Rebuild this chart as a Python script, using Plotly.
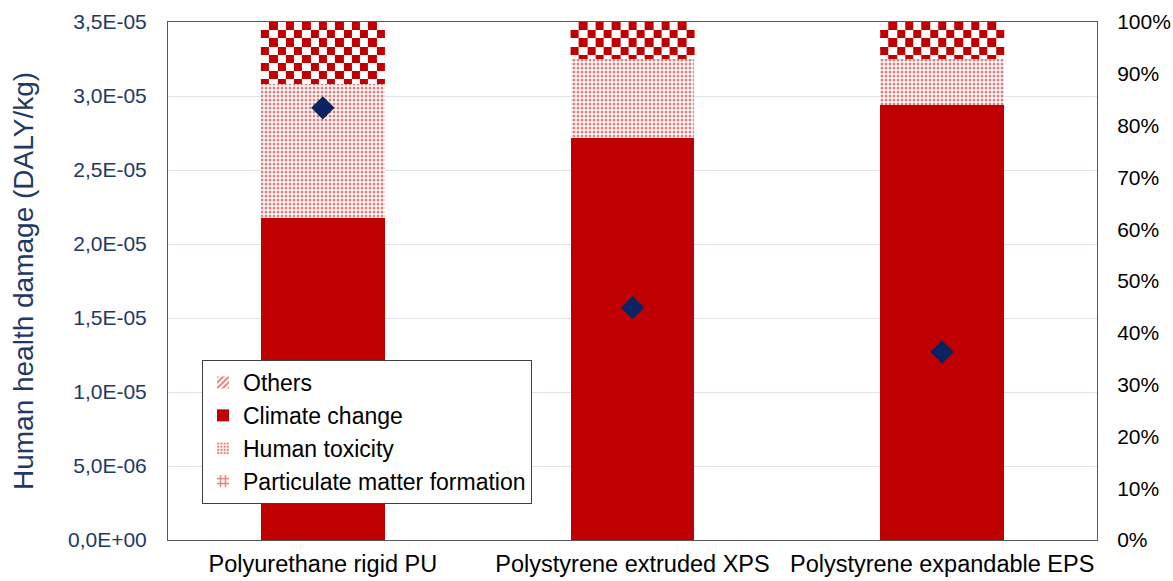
import plotly.graph_objects as go

# Insulation materials compared
categories = ["Polyurethane rigid PU", "Polystyrene extruded XPS", "Polystyrene expandable EPS"]

# Share of human health damage per impact category (%), stacked bottom to top
climate_change = [62.2, 77.6, 84.0]
human_toxicity = [25.8, 15.3, 8.9]
particulate_matter = [12.0, 7.1, 7.1]
others = [0.0, 0.0, 0.0]

# Total human health damage (DALY/kg), left axis
total_damage = [2.92e-05, 1.57e-05, 1.27e-05]

# Axis ticks
left_ticks = [0, 5e-06, 1e-05, 1.5e-05, 2e-05, 2.5e-05, 3e-05, 3.5e-05]
right_ticks = [0, 10, 20, 30, 40, 50, 60, 70, 80, 90, 100]

RED = "#C00000"
NAVY = "#0B2461"
AXIS_BLUE = "#1F3864"
FRAME = "#595959"
FONT = "Liberation Sans, Arial, sans-serif"
BAR_W = 0.4

x_pos = list(range(len(categories)))
left_text = [f"{v:.1E}".replace(".", ",") for v in left_ticks]
right_text = [f"{v}%" for v in right_ticks]

fig = go.Figure()

# Percentage breakdown: main y axis (right side)
fig.add_trace(go.Bar(
    x=x_pos, y=climate_change, name="Climate change", width=BAR_W,
    marker=dict(color=RED, line=dict(width=0)), legendrank=2,
))
fig.add_trace(go.Bar(
    x=x_pos, y=human_toxicity, name="Human toxicity", width=BAR_W,
    marker=dict(color="white", line=dict(width=0),
                pattern=dict(shape=".", fgcolor=RED, bgcolor="white", size=4, solidity=0.45)),
    legendrank=3,
))
fig.add_trace(go.Bar(
    x=x_pos, y=particulate_matter, name="Particulate matter formation", width=BAR_W,
    marker=dict(color="white", line=dict(width=0),
                pattern=dict(shape="+", fgcolor=RED, bgcolor="white", size=6, solidity=0.5)),
    legendrank=4,
))
fig.add_trace(go.Bar(
    x=x_pos, y=others, name="Others", width=BAR_W,
    marker=dict(color="white", line=dict(width=0),
                pattern=dict(shape="/", fgcolor=RED, bgcolor="white", size=5, solidity=0.5)),
    legendrank=1,
))

# Total damage diamonds on the DALY axis (left side)
fig.add_trace(go.Scatter(
    x=x_pos, y=total_damage, yaxis="y2", mode="markers", name="Total",
    marker=dict(symbol="diamond", size=18, color=NAVY, line=dict(width=0)),
    showlegend=False,
))

# Checkerboard fill for the particulate matter segment of each bar
CELL_COLS = 15
CELL_H = 1.58  # percent units per checker row
for i, (cc, ht, pm) in enumerate(zip(climate_change, human_toxicity, particulate_matter)):
    lo = cc + ht
    hi = lo + pm
    y_edges = [hi]
    e = hi
    while e - CELL_H > lo + 1e-9:
        e -= CELL_H
        y_edges.append(e)
    y_edges.append(lo)
    y_edges = y_edges[::-1]
    n_rows = len(y_edges) - 1
    x_edges = [i - BAR_W / 2 + BAR_W * k / CELL_COLS for k in range(CELL_COLS + 1)]
    z = []
    for r in range(n_rows):
        r_top = n_rows - 1 - r
        z.append([(r_top + c) % 2 for c in range(CELL_COLS)])
    fig.add_trace(go.Heatmap(
        x=x_edges, y=y_edges, z=z, yaxis="y3",
        colorscale=[[0, "#FFFFFF"], [1, RED]], zmin=0, zmax=1,
        showscale=False, hoverinfo="skip", showlegend=False,
    ))

fig.update_layout(
    width=1173, height=581,
    margin=dict(l=168, r=76, t=22, b=41),
    paper_bgcolor="white", plot_bgcolor="white",
    font=dict(family=FONT, color="black"),
    barmode="stack",
    showlegend=True,
    legend=dict(
        x=(202 - 168) / 929, y=(540 - 360) / 518, xanchor="left", yanchor="top",
        bgcolor="white", bordercolor="#404040", borderwidth=1,
        font=dict(family=FONT, size=23, color="black"),
        traceorder="normal",
    ),
    xaxis=dict(
        range=[-0.5, 2.5], tickvals=x_pos, ticktext=categories,
        tickfont=dict(family=FONT, size=23.5, color="black"),
        showline=True, linecolor=FRAME, linewidth=1, mirror=True,
        showgrid=False, zeroline=False, automargin=False,
        ticks="outside", ticklen=3, tickcolor="rgba(0,0,0,0)",
    ),
    yaxis=dict(
        side="right", range=[0, 100],
        tickmode="array", tickvals=right_ticks, ticktext=right_text,
        tickfont=dict(family=FONT, size=21, color="black"),
        showline=True, linecolor=FRAME, linewidth=1, mirror=True,
        showgrid=False, zeroline=False, automargin=False,
        ticks="outside", ticklen=15, tickcolor="rgba(0,0,0,0)",
    ),
    yaxis2=dict(
        overlaying="y", side="left", range=[0, 3.5e-05],
        tickmode="array", tickvals=left_ticks, ticktext=left_text,
        tickfont=dict(family=FONT, size=21, color=AXIS_BLUE),
        title=dict(text="Human health damage (DALY/kg)", standoff=26,
                   font=dict(family=FONT, size=28, color=AXIS_BLUE)),
        showline=False, showgrid=True, gridcolor="#DCE3EC", gridwidth=1,
        zeroline=False, automargin=False,
        ticks="outside", ticklen=16, tickcolor="rgba(0,0,0,0)",
    ),
    yaxis3=dict(overlaying="y", range=[0, 100], visible=False),
)

fig.write_html("out.html")
